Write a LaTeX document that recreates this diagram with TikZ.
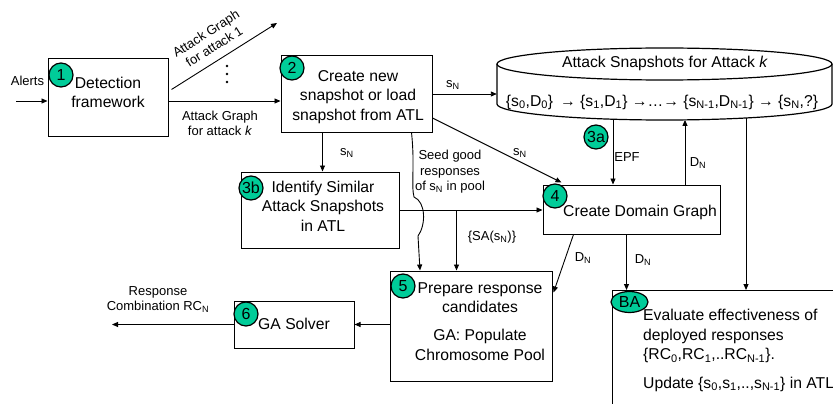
\documentclass[tikz,border=0pt]{standalone}
\usepackage{fontspec}
\setmainfont{Liberation Sans}
\usetikzlibrary{arrows.meta,calc,shapes.geometric}
\definecolor{stepgreen}{RGB}{0,204,153}
\newcommand\sbs[1]{\textsubscript{#1}}

\begin{document}
\begin{tikzpicture}[x=1pt,y=-1pt,
  box/.style={draw, line width=1pt, inner sep=0pt},
  badge/.style={circle, draw, line width=1.2pt, fill=stepgreen, minimum size=24pt,
    inner sep=0pt, font=\fontsize{16}{16}\selectfont},
  big/.style={font=\fontsize{15.7}{19.5}\selectfont, align=center, inner sep=0pt},
  lbl/.style={font=\fontsize{13}{15.5}\selectfont, align=center, inner sep=0pt},
  flow/.style={-{Triangle[length=6pt,width=5pt]}, line width=0.9pt},
  wire/.style={line width=0.9pt}]
\clip (0,0) rectangle (833,404);

% ---------- process boxes ----------
\node[box, minimum width=120pt, minimum height=77pt] (b1) at (108,97.5) {};
\node[box, minimum width=151pt, minimum height=76pt] (b2) at (356.5,94) {};
\node[box, minimum width=158pt, minimum height=76pt] (b3b) at (320,210) {};
\node[box, minimum width=177pt, minimum height=49pt] (b4) at (631.5,209.5) {};
\node[box, minimum width=162pt, minimum height=110pt] (b5) at (471,326) {};
\node[box, minimum width=120pt, minimum height=47pt] (b6) at (294,324.5) {};
\node[box, minimum width=262pt, minimum height=150pt, anchor=north west] (ba) at (612,290) {};

% box texts
\node[big] (t1) at (108,92.5) {Detection\\framework};
\node[big] (t2) at (358,97) {Create new\\snapshot or load\\snapshot from ATL};
\node[big] (t3b) at (323,206) {Identify Similar\\Attack Snapshots\\in ATL};
\node[big] (t4) at (640,212) {Create Domain Graph};
\node[big] (t5a) at (480,297.5) {Prepare response\\candidates};
\node[big] (t5b) at (480,345) {GA: Populate\\Chromosome Pool};
\node[big] (t6) at (294,324) {GA Solver};
\node[big, align=left, anchor=west] (tba1) at (643,336) {Evaluate effectiveness of\\deployed responses\\\{RC\sbs{0},RC\sbs{1},..RC\sbs{N-1}\}.};
\node[big, align=left, anchor=west] (tba2) at (643,384) {Update \{s\sbs{0},s\sbs{1},..,s\sbs{N-1}\} in ATL};

% ---------- snapshot store (cylinder) ----------
\node[minimum width=335pt, minimum height=40pt, inner sep=0pt] (cyl) at (664.5,84) {};
\draw[line width=1.2pt] (664.5,64) ellipse [x radius=167.5, y radius=16];
\draw[line width=1.2pt] (497,64) -- (497,104)
  arc[start angle=180, end angle=0, x radius=167.5, y radius=16] -- (832,64);
\node[big] (ctitle) at (665,63) {Attack Snapshots for Attack \textit{k}};
\node[big] (chain) at (662,102) {\{s\sbs{0},D\sbs{0}\}\, → \{s\sbs{1},D\sbs{1}\} →…→ \{s\sbs{N-1},D\sbs{N-1}\} → \{s\sbs{N},?\}};
\coordinate (cepf) at (613,119.2);
\coordinate (cdn)  at (685,119.9);
\coordinate (cba)  at (746,118);

% ---------- step badges ----------
\node[badge] (c1) at (61,75) {1};
\node[badge] (c2) at (292,68) {2};
\node[badge] (c3a) at (596,137) {3a};
\node[badge] (c3b) at (251,188) {3b};
\node[badge] (c4) at (555,196) {4};
\node[badge] (c5) at (403,286) {5};
\node[badge] (c6) at (246,314) {6};
\node[badge, ellipse, minimum width=37pt, minimum height=21pt] (cba1) at (629.5,302) {BA};

% ---------- connectors ----------
% alerts into detection
\coordinate (alin) at (16,101);
\draw[flow] (alin) -- (alin -| b1.west);
\node[lbl] (lalerts) at (27.5,81) {Alerts};

% attack graphs out of detection
\coordinate (ag1) at (277,23);
\draw[flow] ($(b1.north east)+(3,31)$) -- (ag1);
\node[lbl, rotate=32.3] (lag1) at (210,40) {Attack Graph\\for attack 1};
\foreach \yy in {66,74,82} \fill (227,\yy) circle[radius=1.4];
\draw[flow] ($(b1.east)+(0,3.5)$) -- ($(b2.west)+(0,7)$);
\node[lbl] (lagk) at (220,123.5) {Attack Graph\\for attack \textit{k}};

% create snapshot outputs
\draw[flow] (b2.east) -- (b2.east -| cyl.west);
\node[lbl] (ls1) at (453,85) {s\sbs{N}};
\draw[flow] ($(b2.south west)+(42,0)$) -- ($(b3b.north west)+(82,0)$);
\node[lbl] (ls2) at (347,153) {s\sbs{N}};
\draw[flow] ($(b2.east)+(0,24)$) -- ($(b4.north west)+(19,-2)$);
\node[lbl] (ls3) at (520,153) {s\sbs{N}};

% seeding the pool (hops over the 3b -> 4 line)
\draw[flow] ($(b2.south west)+(131,0)$) .. controls (415,165) and (411,185) .. (414,197)
  .. controls (426,202) and (426,225) .. (418,236) -- ($(b5.north west)+(30.5,0)$);
\node[lbl] (lseed) at (450,172) {Seed good\\responses\\of s\sbs{N} in pool};

% similar snapshots
\draw[flow] (b3b.east) -- (b3b.east -| b4.west);
\draw[flow] ($(b3b.east)+(57,0)$) coordinate (sab) -- (sab |- b5.north);
\node[lbl] (lsa) at (492,237) {\{SA(s\sbs{N})\}};

% store <-> domain graph
\draw[flow] (cepf) -- (cepf |- b4.north);
\node[lbl] (lepf) at (627,157) {EPF};
\draw[flow] (cdn |- b4.north) -- (cdn);
\node[lbl] (ldn1) at (698,163) {D\sbs{N}};
\draw[flow] (cba) -- (cba |- ba.north);

% domain graph outputs
\draw[flow] ($(b4.south west)+(31,0)$) -- ($(b5.north east)+(1,22)$);
\node[lbl] (ldn2) at (583,258) {D\sbs{N}};
\draw[flow] ($(b4.south west)+(84,0)$) coordinate (d4) -- (d4 |- ba.north);
\node[lbl] (ldn3) at (643,260) {D\sbs{N}};

% candidates -> solver -> response
\draw[flow] (b5.west |- b6.east) -- (b6.east);
\coordinate (rcout) at (112,324.5);
\draw[flow] (b6.west) -- (rcout);
\node[lbl] (lrc) at (158,299.5) {Response\\Combination RC\sbs{N}};
\end{tikzpicture}
\end{document}
